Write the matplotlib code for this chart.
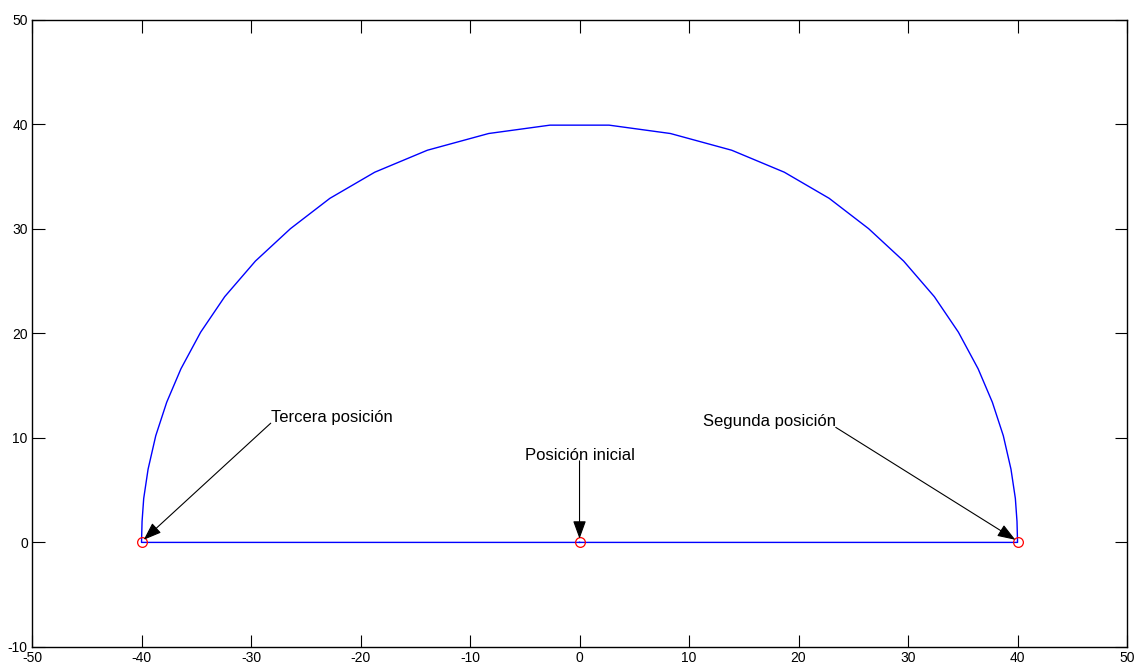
import matplotlib
matplotlib.use('Agg')
import matplotlib.pyplot as plt

plt.rcParams['font.family'] = ['Liberation Sans', 'DejaVu Sans']
plt.rcParams['axes.unicode_minus'] = False

# path: start at origin, out to (40,0), arc over to (-40,0), back to origin
path_x = [0, 40.0, 39.95, 39.8, 39.4, 38.7, 37.7, 36.4, 34.6, 32.4, 29.6, 26.4,
          22.8, 18.7, 13.9, 8.3, 2.7, -2.7, -8.3, -13.9, -18.7, -22.8, -26.4,
          -29.6, -32.4, -34.6, -36.4, -37.7, -38.7, -39.4, -39.8, -39.95, -40.0, 0]
path_y = [0, 0.0, 2.0, 4.2, 7.0, 10.2, 13.4, 16.6, 20.1, 23.5, 26.9, 30.0,
          32.9, 35.4, 37.5, 39.1, 39.9, 39.9, 39.1, 37.5, 35.4, 32.9, 30.0,
          26.9, 23.5, 20.1, 16.6, 13.4, 10.2, 7.0, 4.2, 2.0, 0.0, 0]

# positions marked with red circles
pos_x = [-40, 0, 40]
pos_y = [0, 0, 0]

# annotations: label, text anchor (x, y), arrow tip (x, y), alignment
labels = ['Tercera posición', 'Posición inicial', 'Segunda posición']
label_xy = [(-28.2, 11.4), (0.0, 7.8), (23.4, 11.0)]
tip_xy = [(-39.8, 0.25), (0.0, 0.35), (39.8, 0.25)]
label_ha = ['left', 'center', 'right']
label_va = ['bottom', 'bottom', 'bottom']

fig = plt.figure(figsize=(11.35, 6.71), dpi=100)
ax = fig.add_axes([0.0282, 0.0358, 0.9648, 0.9351])

ax.plot(path_x, path_y, color='#0000ff', linewidth=1.0)
ax.plot(pos_x, pos_y, 'o', markerfacecolor='none', markeredgecolor='#ff0000',
        markersize=7, markeredgewidth=0.9)

for lab, txy, axy, ha, va in zip(labels, label_xy, tip_xy, label_ha, label_va):
    ax.annotate('', xy=axy, xytext=txy,
                arrowprops=dict(arrowstyle='-|>,head_length=1.1,head_width=0.4',
                                color='black', lw=0.8, shrinkA=0, shrinkB=0,
                                mutation_scale=10))
    ax.text(txy[0], txy[1] - 0.2, lab, ha=ha, va=va, fontsize=12)

ax.set_xlim(-50, 50)
ax.set_ylim(-10, 50)
ax.set_xticks(range(-50, 51, 10))
ax.set_yticks(range(-10, 51, 10))
ax.tick_params(direction='in', length=9, width=0.8, top=True, right=True,
               labelsize=10, pad=3)
for s in ax.spines.values():
    s.set_linewidth(1.0)

fig.savefig('out.png', dpi=100)
